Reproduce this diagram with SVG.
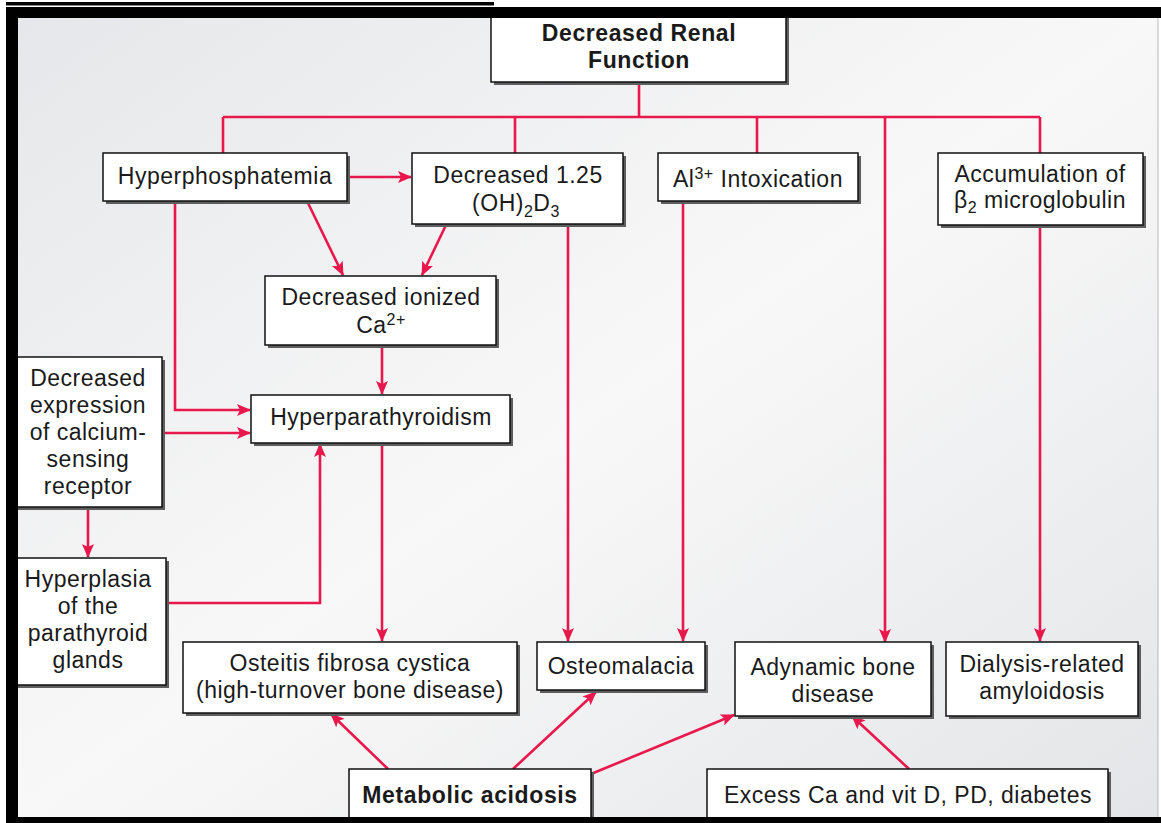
<svg xmlns="http://www.w3.org/2000/svg" width="1161" height="823" viewBox="0 0 1161 823">
<defs>
<linearGradient id="bg" x1="0" y1="0" x2="1" y2="1">
<stop offset="0" stop-color="#e6e7ea"/>
<stop offset="0.5" stop-color="#f8f8f8"/>
<stop offset="1" stop-color="#e4e5e8"/>
</linearGradient>
<marker id="ah" markerWidth="14" markerHeight="12" refX="13" refY="6" orient="auto" markerUnits="userSpaceOnUse">
<path d="M0,0 L14,6 L0,12 L3,6 Z" fill="#e8184c"/>
</marker>
</defs>
<style>
.sh{fill:#5e5e5e;}
.bx{fill:#ffffff;stroke:#111;stroke-width:1.5;}
.t{font-family:"Liberation Sans",Arial,sans-serif;font-size:23px;letter-spacing:0.5px;fill:#1a1a1a;text-anchor:middle;}
.b{font-weight:bold;letter-spacing:0.6px;}
.c{fill:none;stroke:#e8184c;stroke-width:2.6;}
.a{marker-end:url(#ah);}
</style>
<rect x="0" y="0" width="1161" height="823" fill="#ffffff"/>
<rect x="18" y="18" width="1140" height="800" fill="url(#bg)"/>
<line x1="1158" y1="18" x2="1158" y2="818" stroke="#b8b8b8" stroke-width="1"/>

<g id="connectors">
<path class="c" d="M639,82 V117 M223,117 H1040 M223,117 V153 M515,117 V153 M757,117 V153 M1040,117 V153"/>
<path class="c a" d="M885,117 V642"/>
<path class="c a" d="M347,177 H411"/>
<path class="c a" d="M307,201 L343,275"/>
<path class="c a" d="M446,225 L422,275"/>
<path class="c a" d="M382,345 V394"/>
<path class="c a" d="M175,201 V410 H250"/>
<path class="c a" d="M162,433 H250"/>
<path class="c a" d="M88,507 V557"/>
<path class="c a" d="M166,603 H320 V444"/>
<path class="c a" d="M382,443 V641"/>
<path class="c a" d="M568,225 V641"/>
<path class="c a" d="M683,201 V641"/>
<path class="c a" d="M1040,225 V641"/>
<path class="c a" d="M388,769 L331,714"/>
<path class="c a" d="M513,769 L596,692"/>
<path class="c a" d="M591,774 L734,715"/>
<path class="c a" d="M909,769 L852,716"/>
</g>

<g id="renal">
<rect class="sh" x="494" y="11" width="295" height="74"/>
<rect class="bx" x="491" y="8" width="295" height="74"/>
<text class="t b" x="639" y="41">Decreased Renal</text>
<text class="t b" x="639" y="68">Function</text>
</g>
<g id="hyperphos">
<rect class="sh" x="106" y="156" width="244" height="48"/>
<rect class="bx" x="103" y="153" width="244" height="48"/>
<text class="t" x="225" y="184">Hyperphosphatemia</text>
</g>
<g id="dec125">
<rect class="sh" x="415" y="156" width="211" height="71"/>
<rect class="bx" x="412" y="153" width="211" height="71"/>
<text class="t" x="518" y="183">Decreased 1.25</text>
<text class="t" x="516" y="211">(OH)<tspan dy="6" font-size="16">2</tspan><tspan dy="-6">D</tspan><tspan dy="6" font-size="16">3</tspan></text>
</g>
<g id="al">
<rect class="sh" x="661" y="156" width="200" height="48"/>
<rect class="bx" x="658" y="153" width="200" height="48"/>
<text class="t" x="758" y="187">Al<tspan dy="-8" font-size="16">3+</tspan><tspan dy="8"> Intoxication</tspan></text>
</g>
<g id="accum">
<rect class="sh" x="941" y="156" width="205" height="72"/>
<rect class="bx" x="938" y="153" width="205" height="72"/>
<text class="t" x="1040" y="182">Accumulation of</text>
<text class="t" x="1040" y="208">β<tspan dy="5" font-size="16">2</tspan><tspan dy="-5"> microglobulin</tspan></text>
</g>
<g id="ionized">
<rect class="sh" x="268" y="279" width="231" height="69"/>
<rect class="bx" x="265" y="276" width="231" height="69"/>
<text class="t" x="381" y="305">Decreased ionized</text>
<text class="t" x="381" y="333">Ca<tspan dy="-8" font-size="16">2+</tspan></text>
</g>
<g id="hyperpara">
<rect class="sh" x="254" y="398" width="259" height="48"/>
<rect class="bx" x="251" y="395" width="259" height="48"/>
<text class="t" x="381" y="425">Hyperparathyroidism</text>
</g>
<g id="decexpr">
<rect class="sh" x="13" y="360" width="152" height="150"/>
<rect class="bx" x="10" y="357" width="152" height="150"/>
<text class="t" x="88" y="386">Decreased</text>
<text class="t" x="88" y="413">expression</text>
<text class="t" x="88" y="440">of calcium-</text>
<text class="t" x="88" y="467">sensing</text>
<text class="t" x="88" y="494">receptor</text>
</g>
<g id="hyperplasia">
<rect class="sh" x="13" y="561" width="156" height="127"/>
<rect class="bx" x="10" y="558" width="156" height="127"/>
<text class="t" x="88" y="587">Hyperplasia</text>
<text class="t" x="88" y="614">of the</text>
<text class="t" x="88" y="641">parathyroid</text>
<text class="t" x="88" y="668">glands</text>
</g>
<g id="osteitis">
<rect class="sh" x="186" y="645" width="334" height="71"/>
<rect class="bx" x="183" y="642" width="334" height="71"/>
<text class="t" x="350" y="671">Osteitis fibrosa cystica</text>
<text class="t" x="350" y="698">(high-turnover bone disease)</text>
</g>
<g id="osteomalacia">
<rect class="sh" x="540" y="645" width="168" height="48"/>
<rect class="bx" x="537" y="642" width="168" height="48"/>
<text class="t" x="621" y="674">Osteomalacia</text>
</g>
<g id="adynamic">
<rect class="sh" x="738" y="645" width="196" height="74"/>
<rect class="bx" x="735" y="642" width="196" height="74"/>
<text class="t" x="833" y="675">Adynamic bone</text>
<text class="t" x="833" y="702">disease</text>
</g>
<g id="dialysis">
<rect class="sh" x="949" y="645" width="192" height="74"/>
<rect class="bx" x="946" y="642" width="192" height="74"/>
<text class="t" x="1042" y="672">Dialysis-related</text>
<text class="t" x="1042" y="699">amyloidosis</text>
</g>
<g id="metabolic">
<rect class="sh" x="352" y="772" width="242" height="60"/>
<rect class="bx" x="349" y="769" width="242" height="60"/>
<text class="t b" x="470" y="803">Metabolic acidosis</text>
</g>
<g id="excess">
<rect class="sh" x="710" y="772" width="401" height="60"/>
<rect class="bx" x="707" y="769" width="401" height="60"/>
<text class="t" x="908" y="803">Excess Ca and vit D, PD, diabetes</text>
</g>

<g id="frame" fill="#000">
<rect x="6" y="2" width="488" height="3.5"/>
<rect x="6" y="7" width="1155" height="11"/>
<rect x="6" y="7" width="12" height="816"/>
<rect x="6" y="817" width="1155" height="6"/>
</g>
</svg>
